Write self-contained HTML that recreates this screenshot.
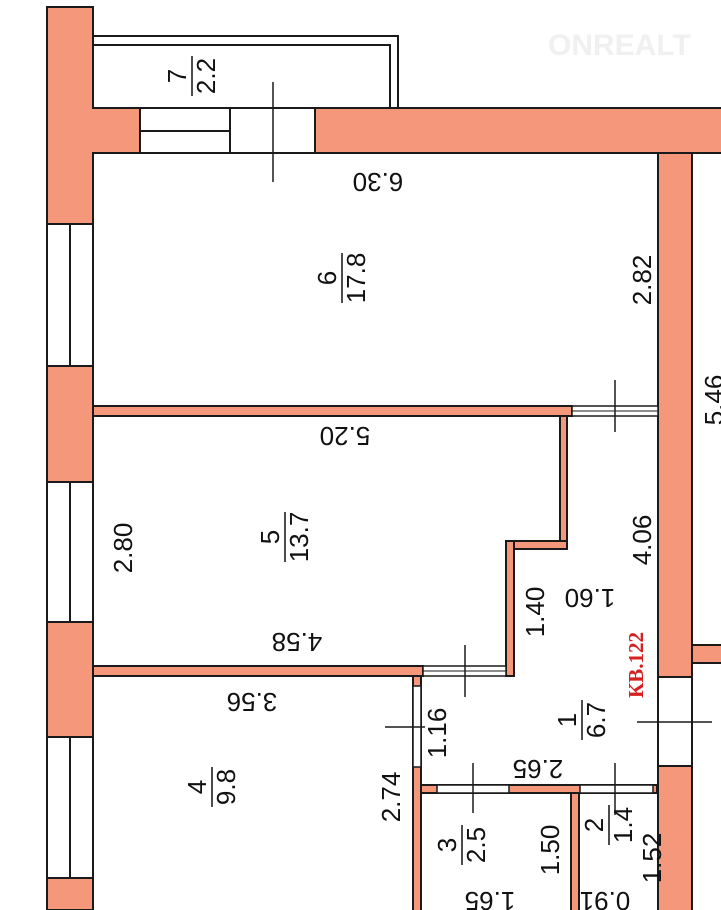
<!DOCTYPE html>
<html><head><meta charset="utf-8"><style>
html,body{margin:0;padding:0;background:#fff;}
svg{display:block;}
text{font-family:"Liberation Sans",sans-serif;font-size:26px;fill:#111;}
</style></head><body>
<svg width="721" height="910" viewBox="0 0 721 910" xmlns="http://www.w3.org/2000/svg">
<g stroke="#1a1a1a" stroke-width="2">
<polyline points="93,36 398,36 398,108" fill="none"/>
<polyline points="93,45 390,45 390,108" fill="none"/>
<rect x="47" y="7" width="46" height="903" fill="#F4977A"/>
<rect x="47" y="224" width="46" height="142" fill="#fff"/>
<rect x="47" y="482" width="46" height="140" fill="#fff"/>
<rect x="47" y="737" width="46" height="141" fill="#fff"/>
<line x1="70" y1="224" x2="70" y2="366"/>
<line x1="70" y1="482" x2="70" y2="622"/>
<line x1="70" y1="737" x2="70" y2="878"/>
<rect x="93" y="108" width="640" height="45" fill="#F4977A"/>
<rect x="140" y="108" width="90" height="45" fill="#fff"/>
<line x1="140" y1="131" x2="230" y2="131"/>
<rect x="230" y="108" width="85" height="45" fill="#fff"/>
<rect x="92" y="109" width="3" height="43" fill="#F4977A" stroke="none"/>
<rect x="658" y="153" width="34" height="770" fill="#F4977A"/>
<rect x="658" y="677" width="34" height="89" fill="#fff"/>
<rect x="692" y="645" width="40" height="18" fill="#F4977A"/>
<rect x="93" y="406" width="479" height="10" fill="#F4977A"/>
<rect x="572" y="406" width="86" height="10" fill="#fff" stroke-width="1.5"/>
<line x1="572" y1="411" x2="658" y2="411" stroke-width="1"/>
<rect x="560" y="416" width="7" height="133" fill="#F4977A"/>
<rect x="506" y="541" width="61" height="8" fill="#F4977A"/>
<rect x="506" y="541" width="8" height="135" fill="#F4977A"/>
<rect x="93" y="666" width="330" height="10" fill="#F4977A"/>
<rect x="423" y="666" width="83" height="10" fill="#fff" stroke-width="1.5"/>
<line x1="423" y1="671" x2="506" y2="671" stroke-width="1"/>
<rect x="413" y="676" width="8" height="240" fill="#F4977A"/>
<rect x="413" y="686" width="8" height="81" fill="#fff" stroke-width="1.5"/>
<rect x="421" y="785" width="236" height="8" fill="#F4977A"/>
<rect x="437" y="785" width="72" height="8" fill="#fff" stroke-width="1.5"/>
<rect x="580" y="785" width="73" height="8" fill="#fff" stroke-width="1.5"/>
<rect x="571" y="793" width="8" height="125" fill="#F4977A"/>
<line x1="273" y1="82" x2="273" y2="182" stroke-width="1.5"/>
<line x1="615" y1="380" x2="615" y2="432" stroke-width="1.5"/>
<line x1="465" y1="645" x2="465" y2="697" stroke-width="1.5"/>
<line x1="385" y1="727" x2="425" y2="727" stroke-width="1.5"/>
<line x1="473" y1="763" x2="473" y2="813" stroke-width="1.5"/>
<line x1="615" y1="763" x2="615" y2="815" stroke-width="1.5"/>
<line x1="637" y1="722" x2="712" y2="722" stroke-width="1.5"/>
</g>
<text x="548" y="55" style="font-size:30px;font-weight:bold;fill:#f0f0f0;">ONREALT</text>

<g transform="translate(192,76) rotate(-90)"><text x="0" y="-6" text-anchor="middle">7</text><line x1="-20" y1="0" x2="20" y2="0" stroke="#111" stroke-width="1.5"/><text x="0" y="23" text-anchor="middle">2.2</text></g>
<g transform="translate(342,278) rotate(-90)"><text x="0" y="-6" text-anchor="middle">6</text><line x1="-25" y1="0" x2="25" y2="0" stroke="#111" stroke-width="1.5"/><text x="0" y="23" text-anchor="middle">17.8</text></g>
<g transform="translate(285,537) rotate(-90)"><text x="0" y="-6" text-anchor="middle">5</text><line x1="-25" y1="0" x2="25" y2="0" stroke="#111" stroke-width="1.5"/><text x="0" y="23" text-anchor="middle">13.7</text></g>
<g transform="translate(582,720) rotate(-90)"><text x="0" y="-6" text-anchor="middle">1</text><line x1="-20" y1="0" x2="20" y2="0" stroke="#111" stroke-width="1.5"/><text x="0" y="23" text-anchor="middle">6.7</text></g>
<g transform="translate(212,787) rotate(-90)"><text x="0" y="-6" text-anchor="middle">4</text><line x1="-20" y1="0" x2="20" y2="0" stroke="#111" stroke-width="1.5"/><text x="0" y="23" text-anchor="middle">9.8</text></g>
<g transform="translate(462,845) rotate(-90)"><text x="0" y="-6" text-anchor="middle">3</text><line x1="-20" y1="0" x2="20" y2="0" stroke="#111" stroke-width="1.5"/><text x="0" y="23" text-anchor="middle">2.5</text></g>
<g transform="translate(609,825) rotate(-90)"><text x="0" y="-6" text-anchor="middle">2</text><line x1="-20" y1="0" x2="20" y2="0" stroke="#111" stroke-width="1.5"/><text x="0" y="23" text-anchor="middle">1.4</text></g>

<g text-anchor="middle">
<text transform="translate(651,280) rotate(-90)">2.82</text>
<text transform="translate(723,400) rotate(-90)">5.46</text>
<text transform="translate(132,548) rotate(-90)">2.80</text>
<text transform="translate(651,540) rotate(-90)">4.06</text>
<text transform="translate(544,612) rotate(-90)">1.40</text>
<text transform="translate(446,733) rotate(-90)">1.16</text>
<text transform="translate(400,797) rotate(-90)">2.74</text>
<text transform="translate(559,850) rotate(-90)">1.50</text>
<text transform="translate(661,858) rotate(-90)">1.52</text>
<text transform="translate(378,173) rotate(180)">6.30</text>
<text transform="translate(345,427) rotate(180)">5.20</text>
<text transform="translate(590,589) rotate(180)">1.60</text>
<text transform="translate(297,633) rotate(180)">4.58</text>
<text transform="translate(252,693) rotate(180)">3.56</text>
<text transform="translate(538,760) rotate(180)">2.65</text>
<text transform="translate(490,892) rotate(180)">1.65</text>
<text transform="translate(605,892) rotate(180)">0.91</text>
<text transform="translate(643,665) rotate(-90)" style="font-family:'Liberation Serif',serif;font-weight:bold;font-size:21px;fill:#d42020;">КВ.122</text>
</g>
</svg>
</body></html>
